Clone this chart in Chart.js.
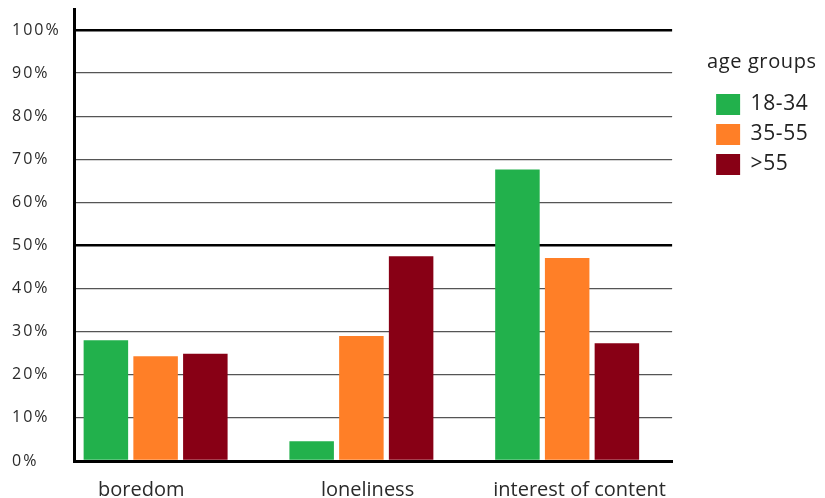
<!DOCTYPE html>
<html>
<head>
<meta charset="utf-8">
<script src="https://cdn.jsdelivr.net/npm/chart.js@4"></script>
<style>
  html, body { margin: 0; padding: 0; background: #ffffff; }
  #wrap { width: 825px; height: 498px; }
</style>
</head>
<body>
<div id="wrap"><canvas id="c" width="825" height="498"></canvas></div>
<script>
// Share of respondents per motivation, split by age group (percent)
const categories = ['boredom', 'loneliness', 'interest of content'];
const groupNames = ['18-34', '35-55', '>55'];
const young  = [28.0, 4.6, 67.6];
const middle = [24.3, 29.0, 47.1];
const older  = [24.9, 47.5, 27.3];
const yTickValues = [0, 10, 20, 30, 40, 50, 60, 70, 80, 90, 100];
const groupColors = ['#22b14c', '#ff7f27', '#880015'];

// Small horizontal nudges of the category captions (in category units)
const captionNudge = [-0.07, 0.03, 0.06];

const series = [young, middle, older];

// Wider letter spacing for the axis percentages and the legend entries;
// the legend title uses a tighter spacing, and the category labels are
// drawn after the bars (z = 1) with normal spacing.
const letterSpacing = {
  id: 'letterSpacing',
  beforeDraw(chart) {
    chart.ctx.letterSpacing = '2px';
    const lg = chart.legend;
    if (lg && !lg._titleWrapped) {
      const drawTitle = lg.drawTitle.bind(lg);
      lg.drawTitle = function () {
        const prev = this.ctx.letterSpacing;
        this.ctx.letterSpacing = '0.6px';
        drawTitle();
        this.ctx.letterSpacing = prev;
      };
      lg._titleWrapped = true;
    }
  },
  beforeDatasetsDraw(chart) { chart.ctx.letterSpacing = '0px'; }
};

new Chart(document.getElementById('c'), {
  type: 'bar',
  data: {
    datasets: series.map((vals, s) => ({
      label: groupNames[s],
      data: vals.map((v, i) => ({ x: i, y: v })),
      backgroundColor: groupColors[s],
      borderWidth: 0,
      categoryPercentage: 0.725,
      barPercentage: 0.895
    }))
  },
  options: {
    responsive: false,
    animation: false,
    devicePixelRatio: 1,
    layout: { padding: { left: 12, top: 9, right: 9.6, bottom: 0 } },
    scales: {
      x: {
        type: 'linear',
        bounds: 'data',
        offset: false,
        min: -0.3966,
        max: 2.51,
        afterBuildTicks(scale) {
          scale.ticks = categories.map((c, i) => ({ value: i + captionNudge[i] }));
        },
        afterFit(scale) { scale.height = 37; },
        grid: { display: false, offset: false },
        border: { display: true, color: '#000000', width: 3, z: 1 },
        ticks: {
          z: 1,
          padding: 9,
          color: '#2a2a2a',
          font: { family: 'Open Sans', size: 20 },
          maxRotation: 0,
          autoSkip: false,
          callback: (v, i) => categories[i]
        }
      },
      y: {
        min: 0,
        max: 104.86,
        afterBuildTicks(scale) {
          scale.ticks = yTickValues.map(v => ({ value: v }));
        },
        afterFit(scale) { scale.width = 62; },
        border: { display: true, color: '#000000', width: 3 },
        grid: {
          drawTicks: false,
          color: (ctx) => (ctx.tick && ctx.tick.value % 50 === 0) ? '#000000' : '#555555',
          lineWidth: (ctx) => (ctx.tick && ctx.tick.value % 50 === 0) ? 2.5 : 1.3
        },
        ticks: {
          crossAlign: 'far',
          padding: 0,
          color: '#2a2a2a',
          font: { family: 'Open Sans', size: 16, lineHeight: 1 },
          callback: (v) => v + '%'
        }
      },
      gap: {
        type: 'linear',
        position: 'right',
        display: true,
        grid: { display: false },
        border: { display: false },
        ticks: { display: false },
        afterFit(scale) { scale.width = 35; }
      }
    },
    plugins: {
      tooltip: { enabled: false },
      legend: {
        position: 'right',
        align: 'start',
        title: {
          display: true,
          text: 'age groups',
          position: 'start',
          color: '#222222',
          font: { family: 'Open Sans', size: 20 },
          padding: { top: 43, bottom: 9 }
        },
        labels: {
          boxWidth: 24,
          boxHeight: 21,
          padding: 9,
          color: '#222222',
          font: { family: 'Open Sans', size: 21 }
        }
      }
    }
  },
  plugins: [letterSpacing]
});
</script>
</body>
</html>
